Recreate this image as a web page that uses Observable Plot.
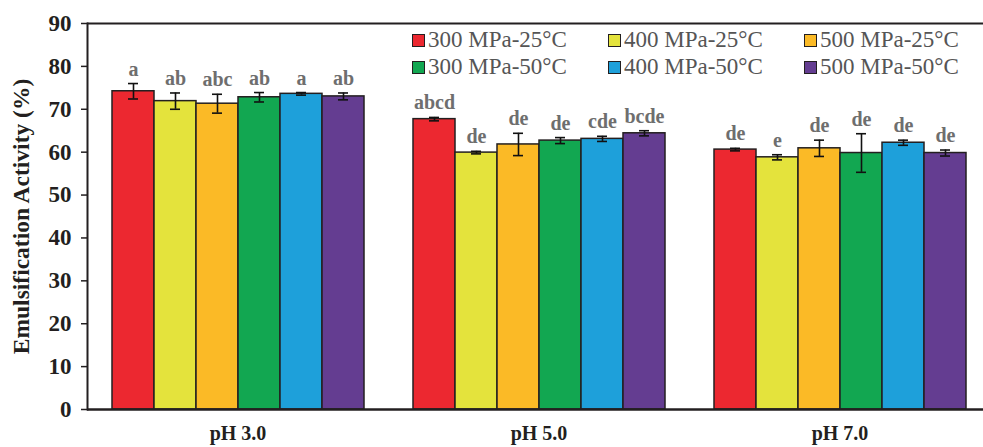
<!DOCTYPE html>
<html>
<head>
<meta charset="utf-8">
<script src="https://cdn.jsdelivr.net/npm/d3@7"></script>
<script src="https://cdn.jsdelivr.net/npm/@observablehq/plot@0.6"></script>
<style>
  html, body { margin: 0; padding: 0; background: #fff; overflow: hidden; }
  #wrap { position: relative; width: 983px; height: 447px; }
  #legend { position: absolute; left: 0; top: 0; font-family: "Liberation Serif", "Times New Roman", serif; font-size: 23px; color: #555; }
  .item { position: absolute; display: flex; align-items: center; white-space: nowrap; }
  .sw { width: 11px; height: 11px; border: 1.5px solid #231f20; margin-right: 3px; }
</style>
</head>
<body>
<div id="wrap"><div id="legend"></div></div>
<script>
const groups = ["pH 3.0", "pH 5.0", "pH 7.0"];
const treatments = ["300 MPa-25°C", "400 MPa-25°C", "500 MPa-25°C", "300 MPa-50°C", "400 MPa-50°C", "500 MPa-50°C"];
const colors = ["#EC2830", "#E4E33C", "#FBBA26", "#12A751", "#1EA0DA", "#643D91"];

const meanPH3 = [74.2, 71.9, 71.3, 72.8, 73.6, 73.0];
const sdPH3   = [1.8, 1.9, 2.2, 1.1, 0.3, 0.8];
const letPH3  = ["a", "ab", "abc", "ab", "a", "ab"];

const meanPH5 = [67.7, 59.9, 61.8, 62.7, 63.1, 64.4];
const sdPH5   = [0.4, 0.3, 2.6, 0.7, 0.6, 0.6];
const letPH5  = ["abcd", "de", "de", "de", "cde", "bcde"];

const meanPH7 = [60.6, 58.8, 60.9, 59.8, 62.2, 59.8];
const sdPH7   = [0.3, 0.6, 1.9, 4.5, 0.6, 0.7];
const letPH7  = ["de", "e", "de", "de", "de", "de"];

const yTicks = [0, 10, 20, 30, 40, 50, 60, 70, 80, 90];

const means = [meanPH3, meanPH5, meanPH7];
const sds = [sdPH3, sdPH5, sdPH7];
const lets = [letPH3, letPH5, letPH7];

const rows = [];
groups.forEach((g, gi) => treatments.forEach((t, ti) => {
  rows.push({group: g, treatment: t, mean: means[gi][ti], sd: sds[gi][ti], letter: lets[gi][ti]});
}));

const serif = "'Liberation Serif', 'Times New Roman', serif";
const yTitle = "Emulsification Activity (%)";

const chart = Plot.plot({
  width: 983,
  height: 447,
  marginLeft: 87,
  marginRight: -7,
  marginTop: 23,
  marginBottom: 38,
  style: {fontFamily: serif, background: "white", overflow: "hidden", color: "#231f20"},
  fx: {domain: groups, padding: 0, label: null},
  x: {domain: treatments, paddingInner: 0, paddingOuter: 0.583, axis: null},
  y: {domain: [0, 90]},
  color: {domain: treatments, range: colors},
  marks: [
    Plot.barY(rows, {fx: "group", x: "treatment", y: "mean", fill: "treatment", stroke: "#231f20", strokeWidth: 1.5, inset: 0}),
    Plot.ruleX(rows, {fx: "group", x: "treatment", y1: d => d.mean - d.sd, y2: d => d.mean + d.sd, stroke: "#111", strokeWidth: 1.6}),
    Plot.tickY(rows, {fx: "group", x: "treatment", y: d => d.mean - d.sd, stroke: "#111", strokeWidth: 1.6, insetLeft: 16, insetRight: 16}),
    Plot.tickY(rows, {fx: "group", x: "treatment", y: d => d.mean + d.sd, stroke: "#111", strokeWidth: 1.6, insetLeft: 16, insetRight: 16}),
    Plot.text(rows, {fx: "group", x: "treatment", y: d => d.mean + d.sd, text: "letter", dy: -8, lineAnchor: "bottom", fontSize: 20, fontWeight: "bold", fill: "#6e6e6e", fontFamily: serif}),
    Plot.ruleY([90], {stroke: "#231f20", strokeWidth: 2}),
    Plot.ruleY([0], {stroke: "#231f20", strokeWidth: 2.5}),
    Plot.frame({anchor: "left", facet: "super", stroke: "#231f20", strokeWidth: 2}),
    Plot.axisY({ticks: yTicks, tickSize: 6, tickPadding: 10, fontSize: 23, fontWeight: "bold", stroke: "#231f20", strokeWidth: 1.5,
      label: yTitle, labelAnchor: "center", labelOffset: 75, labelArrow: false}),
    Plot.axisFx({anchor: "bottom", tickSize: 0, tickPadding: 16, fontSize: 20, fontWeight: "bold", label: null})
  ]
});
document.getElementById("wrap").prepend(chart);

chart.querySelectorAll("text").forEach(t => {
  if (t.textContent === yTitle) { t.setAttribute("font-size", 23.5); t.setAttribute("font-weight", "bold"); }
});

const legend = document.getElementById("legend");
const colX = [412, 608, 804];
const rowY = [40, 67];
treatments.forEach((t, i) => {
  const it = document.createElement("div");
  it.className = "item";
  it.style.left = colX[i % 3] + "px";
  it.style.top = (rowY[Math.floor(i / 3)] - 13) + "px";
  it.style.height = "26px";
  const sw = document.createElement("div");
  sw.className = "sw";
  sw.style.background = colors[i];
  const lab = document.createElement("span");
  lab.textContent = t;
  it.append(sw, lab);
  legend.append(it);
});
</script>
</body>
</html>
